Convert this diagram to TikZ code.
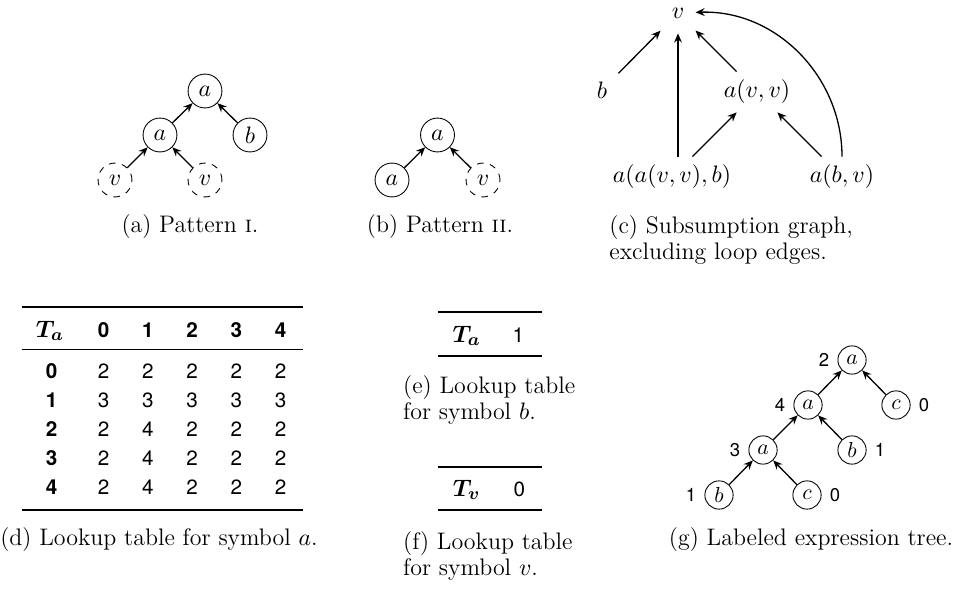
\documentclass[tikz,border=0pt,11pt]{standalone}
\usepackage{fontspec}
\newfontfamily\digitfont{TeX Gyre Heros}
\usetikzlibrary{arrows.meta}

\begin{document}
\begin{tikzpicture}[
    x=0.46pt, y=-0.46pt,
    >={Stealth[length=4.2pt, width=3.6pt, inset=1.4pt]},
    link/.style={semithick, ->},
    symb/.style={draw, thin, circle, minimum size=15.6pt, inner sep=0pt},
    hole/.style={symb, dashed},
    tsymb/.style={draw, thin, circle, minimum size=13pt, inner sep=0pt,
        font=\small, label distance=1pt},
    term/.style={inner xsep=5pt, inner ysep=3.5pt, minimum height=18.4pt},
    capt/.style={font=\fontsize{11}{12}\selectfont, align=left, inner sep=0pt},
    tabname/.style={anchor=base, font=\normalsize},
    cell/.style={anchor=base, font=\digitfont\fontsize{9.5}{11}\selectfont},
    headcell/.style={anchor=base, font=\digitfont\bfseries\fontsize{9.5}{11}\selectfont},
    numlbl/.style={font=\digitfont\fontsize{8.5}{10}\selectfont},
    heavyrule/.style={line width=0.8pt},
    lightrule/.style={line width=0.5pt},
]

\useasboundingbox (0,0) rectangle (967,589);

% =============================================================================
% (a) Pattern I
% =============================================================================
\begin{scope}
    % --- Nodes ---
    \node[symb] (pa-top) at (205,91) {$a$};
    \node[symb] (pa-mid) at (160,135) {$a$};
    \node[symb] (pa-b) at (250,135) {$b$};
    \node[hole] (pa-v1) at (115,180) {$v$};
    \node[hole] (pa-v2) at (205,180) {$v$};

    % --- Edges ---
    \draw[link] (pa-mid) -- (pa-top);
    \draw[link] (pa-b) -- (pa-top);
    \draw[link] (pa-v1) -- (pa-mid);
    \draw[link] (pa-v2) -- (pa-mid);

    \node[capt] (pa-cap) at (190,227) {(a) Pattern \textsc{i}.};
\end{scope}

% =============================================================================
% (b) Pattern II
% =============================================================================
\begin{scope}
    \node[symb] (pb-top) at (437.5,135) {$a$};
    \node[symb] (pb-a) at (392,180) {$a$};
    \node[hole] (pb-v) at (483,180) {$v$};

    \draw[link] (pb-a) -- (pb-top);
    \draw[link] (pb-v) -- (pb-top);

    \node[capt] (pb-cap) at (440,227) {(b) Pattern \textsc{ii}.};
\end{scope}

% =============================================================================
% (c) Subsumption graph
% =============================================================================
\begin{scope}
    % --- Terms ---
    \node[term] (c-v) at (678,13) {$v$};
    \node[term] (c-b) at (602,90) {$b$};
    \node[term] (c-avv) at (757,92) {$a(v,v)$};
    \node[term] (c-aavvb) at (672,177) {$a(a(v,v),b)$};
    \node[term] (c-abv) at (842,177) {$a(b,v)$};

    % --- Subsumption edges ---
    \draw[link] (c-b) -- (c-v);
    \draw[link] (c-aavvb.north -| c-v) -- (c-v);
    \draw[link] (c-aavvb) -- (c-avv);
    \draw[link] (c-avv) -- (c-v);
    \draw[link] (c-abv) -- (c-avv);
    \draw[link] (c-abv) to[out=90, in=2] (c-v);

    \node[capt, anchor=west] (c-cap) at (609,240)
        {(c) Subsumption graph,\\excluding loop edges.};
\end{scope}

% =============================================================================
% (d) Lookup table for a
% =============================================================================
\begin{scope}
    % --- Rules ---
    \draw[heavyrule] (21.7,307) -- (303.3,307);
    \draw[lightrule] (21.7,349.3) -- (303.3,349.3);
    \draw[heavyrule] (21.7,510) -- (303.3,510);

    % --- Header ---
    \node[tabname] (d-name) at (50,337) {{\boldmath$T_a$}};
    \foreach \c in {0,...,4}
        \node[headcell] (d-h\c) at ({103.5+44.3*\c},337) {\c};

    % --- Body ---
    \foreach \r/\vals in {0/{2,2,2,2,2}, 1/{3,3,3,3,3}, 2/{2,4,2,2,2},
                          3/{2,4,2,2,2}, 4/{2,4,2,2,2}} {
        \node[headcell] (d-r\r) at (51.7,{378.7+28.9*\r}) {\r};
        \foreach \v [count=\c from 0] in \vals
            \node[cell] (d-\r-\c) at ({103.5+44.3*\c},{378.7+28.9*\r}) {\v};
    }

    \node[capt] (d-cap) at (159,540) {(d) Lookup table for symbol $a$.};
\end{scope}

% =============================================================================
% (e) and (f) Lookup tables for b and v
% =============================================================================
\begin{scope}
    % --- (e) ---
    \draw[heavyrule] (437.7,311.7) -- (541.7,311.7);
    \draw[heavyrule] (437.7,355.7) -- (541.7,355.7);
    \node[tabname] (e-name) at (466.7,342) {{\boldmath$T_a$}};
    \node[cell] (e-val) at (518.3,342) {1};
    \node[capt, anchor=west] (e-cap) at (402.7,400) {(e) Lookup table\\for symbol $b$.};

    % --- (f) ---
    \draw[heavyrule] (437.7,466.7) -- (541.7,466.7);
    \draw[heavyrule] (437.7,510) -- (541.7,510);
    \node[tabname] (f-name) at (466.7,496) {{\boldmath$T_v$}};
    \node[cell] (f-val) at (519.3,496) {0};
    \node[capt, anchor=west] (f-cap) at (402.7,556) {(f) Lookup table\\for symbol $v$.};
\end{scope}

% =============================================================================
% (g) Labeled expression tree
% =============================================================================
\begin{scope}
    % --- Nodes with their states ---
    \node[tsymb, label={[numlbl]left:2}] (g-root) at (852,360) {$a$};
    \node[tsymb, label={[numlbl]left:4}] (g-mid) at (808,405) {$a$};
    \node[tsymb, label={[numlbl]right:0}] (g-c1) at (896,405) {$c$};
    \node[tsymb, label={[numlbl]left:3}] (g-low) at (763,450) {$a$};
    \node[tsymb, label={[numlbl]right:1}] (g-b1) at (852,450) {$b$};
    \node[tsymb, label={[numlbl]left:1}] (g-b2) at (719,495) {$b$};
    \node[tsymb, label={[numlbl]right:0}] (g-c2) at (807,495) {$c$};

    % --- Edges ---
    \draw[link] (g-mid) -- (g-root);
    \draw[link] (g-c1) -- (g-root);
    \draw[link] (g-low) -- (g-mid);
    \draw[link] (g-b1) -- (g-mid);
    \draw[link] (g-b2) -- (g-low);
    \draw[link] (g-c2) -- (g-low);

    \node[capt] (g-cap) at (811,540) {(g) Labeled expression tree.};
\end{scope}

\end{tikzpicture}
\end{document}
